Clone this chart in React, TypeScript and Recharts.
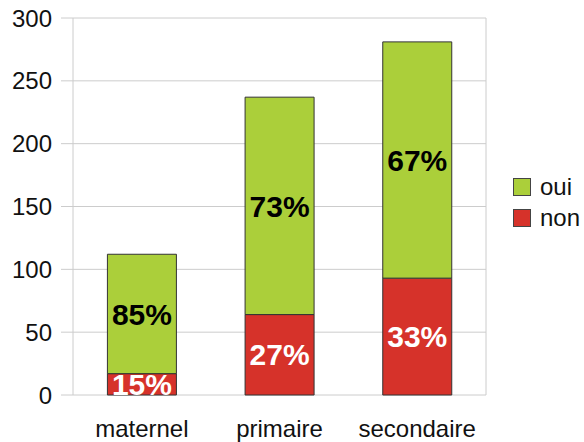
import { BarChart, Bar, XAxis, YAxis, CartesianGrid, LabelList } from 'recharts';

const categories = ['maternel', 'primaire', 'secondaire'];
const ouiValues = [95, 173, 188];
const nonValues = [17, 64, 93];
const yTicks = [0, 50, 100, 150, 200, 250, 300];
const boundaryTicks = [0, 1, 2, 3];

const GREEN = '#abcf3a';
const RED = '#d6322a';
const GRID = '#cccccc';
const FONT = '"Liberation Sans", Arial, sans-serif';

const pct = (a: number, b: number) => `${Math.round((a / (a + b)) * 100)}%`;

const data = categories.map((name, i) => ({
  name,
  oui: ouiValues[i],
  non: nonValues[i],
  ouiLabel: pct(ouiValues[i], nonValues[i]),
  nonLabel: pct(nonValues[i], ouiValues[i]),
}));

const legendItems = [
  { label: 'oui', color: GREEN },
  { label: 'non', color: RED },
];

const ChartLegend = () => (
  <div style={{ position: 'absolute', left: 513, top: 171, fontFamily: FONT, fontSize: 24, color: '#111' }}>
    {legendItems.map((it) => (
      <div key={it.label} style={{ display: 'flex', alignItems: 'center', height: 31, whiteSpace: 'nowrap' }}>
        <span
          style={{
            display: 'inline-block',
            width: 16,
            height: 16,
            background: it.color,
            border: '1px solid #444',
            marginRight: 9,
          }}
        />
        <span>{it.label}</span>
      </div>
    ))}
  </div>
);

export default function App() {
  return (
    <div style={{ position: 'fixed', left: 0, top: 0, width: 584, height: 442, background: '#fff' }}>
      <BarChart
        width={584}
        height={442}
        data={data}
        margin={{ top: 18, right: 97, left: 0, bottom: 45 }}
        barCategoryGap="25%"
        style={{ fontFamily: FONT }}
      >
        <CartesianGrid vertical={false} stroke={GRID} />
        {/* short separator ticks between categories */}
        <XAxis
          xAxisId="sep"
          type="number"
          domain={[0, 3]}
          ticks={boundaryTicks}
          height={1}
          tickSize={12}
          tick={false}
          axisLine={false}
          tickLine={{ stroke: GRID }}
        />
        <XAxis
          dataKey="name"
          height={1}
          tickLine={false}
          axisLine={false}
          tickSize={0}
          tickMargin={25}
          tick={{ fill: '#111', fontSize: 24 }}
        />
        <YAxis
          domain={[0, 300]}
          ticks={yTicks}
          width={73}
          tickSize={12}
          tickMargin={9}
          axisLine={{ stroke: GRID }}
          tickLine={{ stroke: GRID }}
          tick={{ fill: '#111', fontSize: 24 }}
        />
        <YAxis
          yAxisId="r"
          orientation="right"
          domain={[0, 300]}
          width={1}
          tick={false}
          tickLine={false}
          axisLine={{ stroke: GRID }}
        />
        <Bar dataKey="non" stackId="a" fill={RED} stroke="#333" strokeWidth={1} isAnimationActive={false}>
          <LabelList dataKey="nonLabel" position="center" fill="#fff" fontSize={30} fontWeight="bold" />
        </Bar>
        <Bar dataKey="oui" stackId="a" fill={GREEN} stroke="#333" strokeWidth={1} isAnimationActive={false}>
          <LabelList dataKey="ouiLabel" position="center" fill="#000" fontSize={30} fontWeight="bold" />
        </Bar>
      </BarChart>
      <ChartLegend />
    </div>
  );
}
